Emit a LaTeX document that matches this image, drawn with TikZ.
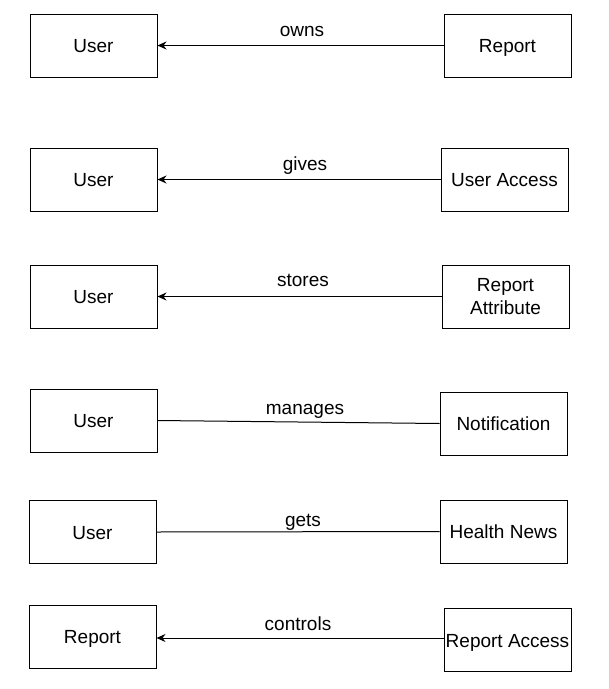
\documentclass[tikz,border=0pt]{standalone}
\usepackage{fontspec}
\setmainfont{Liberation Sans}
\usetikzlibrary{arrows.meta}
\begin{document}
\begin{tikzpicture}[x=1pt,y=-1pt,
  box/.style={draw=black,line width=1pt,minimum width=127pt,minimum height=63pt,inner sep=0pt,align=center,font=\fontsize{19}{23}\selectfont},
  one/.style={text height=16.2pt,text depth=2.2pt},
  lbl/.style={anchor=base,inner sep=0pt,font=\fontsize{19}{23}\selectfont},
  conn/.style={draw=black,line width=1pt},
  arr/.style={conn,-{Stealth[length=9pt,width=8pt,inset=3pt]}}]
\useasboundingbox (0,0) rectangle (609,689);
\node[box,one] (u1) at (93.5,45.5) {User};
\node[box,one] (r1) at (507.5,45.5) {Report};
\node[box,one] (u2) at (93.5,179.5) {User};
\node[box,one] (ua) at (504.5,179.5) {User Access};
\node[box,one] (u3) at (93.5,296.5) {User};
\node[box] (rat) at (505.5,296.5) {Report\\Attribute};
\node[box,one] (u4) at (93.5,420.5) {User};
\node[box,one] (nt) at (503.5,423.5) {Notification};
\node[box,one] (u5) at (92.5,532) {User};
\node[box,one] (hn) at (503.5,531.5) {Health News};
\node[box,one] (r6) at (92.5,636.5) {Report};
\node[box,one] (ra) at (507.5,640) {Report Access};
\draw[arr] (r1.west) -- (u1.east);
\draw[arr] (ua.west) -- (u2.east);
\draw[arr] (rat.west) -- (u3.east);
\draw[conn] (u4.east) -- (nt.west);
\draw[conn] (u5.east) -- (hn.west);
\draw[arr] ([yshift=2pt]ra.west) -- ([yshift=2pt]ra.west -| r6.east);
\node[lbl] (l1) at (302,36) {owns};
\node[lbl] (l2) at (305,170.5) {gives};
\node[lbl] (l3) at (303,286.5) {stores};
\node[lbl] (l4) at (305,414) {manages};
\node[lbl] (l5) at (303,526) {gets};
\node[lbl] (l6) at (298,630) {controls};
\end{tikzpicture}
\end{document}
